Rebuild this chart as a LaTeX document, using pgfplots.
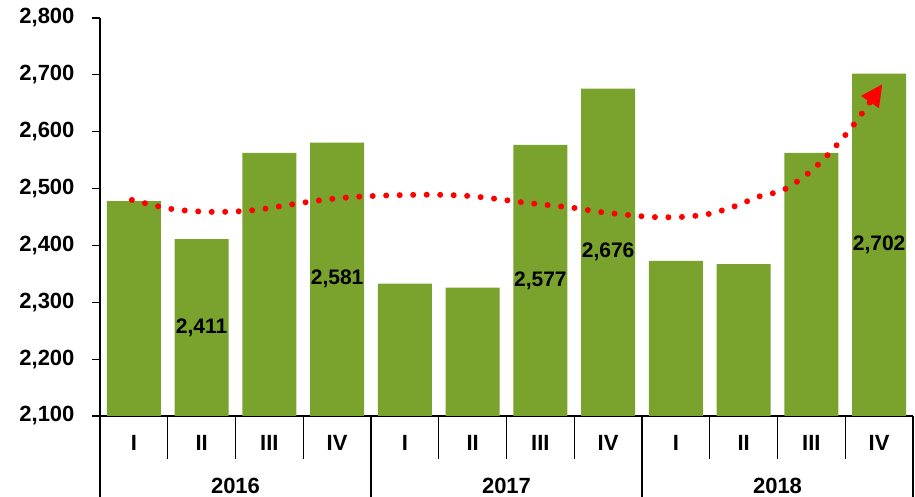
\documentclass[border=0pt]{standalone}
\usepackage{pgfplots}
\pgfplotsset{compat=1.18}
\usepackage{pgfplotstable}
\usepackage{fontspec}
\setmainfont{Liberation Sans}
\usetikzlibrary{arrows.meta}
\definecolor{barg}{RGB}{121,163,45}

% quarterly values, 2016 I .. 2018 IV
\pgfplotstableread{
x y lab
0 2478 {}
1 2411 {2,411}
2 2563 {}
3 2581 {2,581}
4 2333 {}
5 2326 {}
6 2577 {2,577}
7 2676 {2,676}
8 2373 {}
9 2367 {}
10 2563 {}
11 2702 {2,702}
}\bars

\begin{document}
\begin{tikzpicture}
\begin{axis}[
  at={(0,0)}, anchor=south west,
  scale only axis,
  width=813pt, height=398pt,
  xmin=-0.5, xmax=11.5,
  ymin=2100, ymax=2800,
  enlargelimits=false,
  axis x line*=bottom,
  axis y line*=left,
  axis line style={line width=1.2pt, black},
  ytick={2100,2200,...,2800},
  xtick={0,...,11},
  xticklabels={I,II,III,IV,I,II,III,IV,I,II,III,IV},
  xtick style={draw=none},
  ytick style={line width=1.2pt, black},
  major tick length=8pt,
  tick align=outside,
  scaled y ticks=false,
  yticklabel style={font=\fontsize{22}{26}\selectfont\bfseries,
    /pgf/number format/fixed, /pgf/number format/1000 sep={,},
    /pgf/number format/assume math mode=true, xshift=-14pt},
  xticklabel style={font=\fontsize{22}{26}\selectfont\bfseries, yshift=-8pt},
]
\addplot[ybar, bar width=0.8, bar shift=0pt, fill=barg, draw=none,
  point meta=explicit symbolic,
  visualization depends on={0.5*(\thisrow{y}-2100)*398/700 \as \half},
  nodes near coords,
  every node near coord/.append style={font=\fontsize{21}{24}\selectfont\bfseries,
    anchor=center, yshift=-\half pt},
] table[x=x, y=y, meta=lab] {\bars};
% trend line
\addplot[red, smooth, line width=6pt, line cap=round,
  dash pattern=on 0pt off 13.5pt,
  -{Triangle[length=22pt 0 0, width=20pt 0 0]}] coordinates {
  (-0.03,2480) (0.56,2464) (1.15,2459) (1.76,2462) (2.54,2476) (3.02,2483)
  (3.53,2487) (4.13,2489) (4.54,2489) (4.94,2487) (5.34,2482) (5.72,2476)
  (6.11,2471) (6.50,2466) (6.87,2459) (7.26,2454) (7.65,2450) (8.07,2450)
  (8.47,2455) (8.85,2468) (9.25,2487) (9.56,2496) (9.87,2519) (10.15,2548)
  (10.43,2584) (10.68,2621) (11.05,2684)
};
\end{axis}
% category separators below the axis
\foreach \i in {0,...,12} \draw[line width=1.2pt] (\i*67.75pt,0) -- (\i*67.75pt,-43pt);
\foreach \i in {0,4,8,12} \draw[line width=1.2pt] (\i*67.75pt,0) -- (\i*67.75pt,-100pt);
\foreach \i/\yr in {0/2016,1/2017,2/2018}
  \node[font=\fontsize{22}{26}\selectfont\bfseries, inner sep=0pt] at (135.5pt+\i*271pt,-70pt) {\yr};
\pgfresetboundingbox
\path[use as bounding box] (-100pt,-81pt) rectangle (815pt,416pt);
\end{tikzpicture}
\end{document}
